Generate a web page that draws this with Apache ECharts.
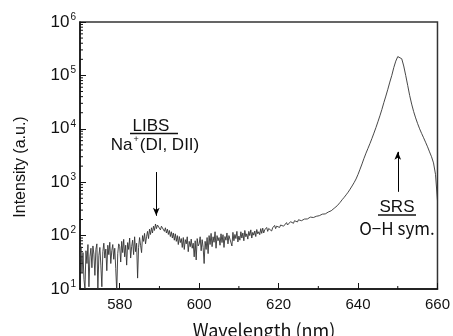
<!DOCTYPE html>
<html>
<head>
<meta charset="utf-8">
<script src="https://cdn.jsdelivr.net/npm/echarts@6/dist/echarts.min.js"></script>
<style>
  html, body { margin: 0; padding: 0; background: #fff; }
  #chart { width: 453px; height: 336px; }
</style>
</head>
<body>
<div id="chart"></div>
<script>
// noisy part: every 0.25 nm from 570 to 634.75 nm
const noisyStart = 570;
const noisyStep = 0.25;
const noisyIntensity = [
  35, 62, 20, 48,   15, 10, 52, 30,   68, 11, 40, 58,   25, 64, 45, 18,
  55, 70, 10, 42,   60, 28, 11, 50,   72, 38, 56, 22,   66, 44, 75, 30,
  52, 68, 36, 58,   24, 9, 46, 70,    62, 32, 78, 48,   85, 40, 66, 28,
  74, 55, 90, 38,   62, 82, 44, 95,   50, 72, 16, 60,   92, 66, 48, 100,
  78, 110, 70, 95,  120, 88, 132, 105, 140, 112, 150, 125, 165, 135, 158, 145,
  160, 128, 150, 138, 148, 120, 140, 112, 132, 105, 125, 96, 118, 90, 112, 82,
  108, 78, 100, 68, 96, 74, 88, 60,   92, 55, 84, 70,   95, 50, 78, 62,
  86, 58, 72, 40,   80, 35, 88, 64,   70, 95, 52, 84,   60, 30, 78, 55,
  92, 46, 100, 68,  110, 62, 95, 75,  118, 58, 100, 80, 92, 66, 108, 74,
  104, 60, 96, 82,  112, 70, 100, 86, 92, 64, 115, 80,  105, 88, 120, 76,
  98, 82, 118, 90,  112, 80, 125, 95, 108, 86, 120, 100, 128, 90, 115, 102,
  122, 96, 130, 108, 118, 104, 135, 110, 138, 112, 128, 118, 142, 120, 136, 126,
  148, 122, 140, 132, 155, 135, 150, 140, 160, 142, 158, 148, 168, 150, 162, 155,
  175, 158, 170, 162, 182, 168, 178, 170, 190, 176, 186, 180, 198, 186, 195, 190,
  206, 196, 204, 200, 214, 205, 212, 208, 222, 214, 220, 218, 232, 224, 230, 228,
  240, 236, 244, 240, 252, 248, 258, 255, 268, 265, 276, 274, 290, 292, 304, 310,
  325, 335, 348, 362
];

// SRS band: every 0.5 nm from 635 to 660 nm
const peakStart = 635;
const peakStep = 0.5;
const peakIntensity = [
  380, 420, 470, 520, 580, 650, 740, 850, 980, 1150,
  1400, 1750, 2200, 2800, 3500, 4300, 5300, 6600, 8300, 10500,
  13500, 17500, 23000, 31000, 41000, 55000, 75000, 100000, 140000, 185000,
  225000, 235000, 205000, 150000, 100000, 65000, 42000, 29000, 21000, 16000,
  12500, 10000, 8200, 6800, 5600, 4600, 3700, 3000, 2300, 1400,
  450
];

// minor tick values
const xMinorTicks = [590, 610, 630, 650];
const yMinorTicks = [];
[10, 100, 1000, 10000, 100000].forEach(d => {
  [2, 3, 4, 5, 6, 7, 8, 9].forEach(m => yMinorTicks.push(d * m));
});

// annotation arrows [x, yFrom, yTo]
const libsArrow = [589.2, 1550, 235];
const srsArrow = [650, 660, 3700];

const spectrum = noisyIntensity.map((v, i) => [noisyStart + i * noisyStep, v])
  .concat(peakIntensity.map((v, i) => [peakStart + i * peakStep, v]));
const minorData = xMinorTicks.map(x => [x, 10, 0]).concat(yMinorTicks.map(y => [570, y, 1]));

const chart = echarts.init(document.getElementById('chart'));

const option = {
  animation: false,
  grid: {
    left: 80, right: 13, top: 22, bottom: 47,
    show: true, borderColor: '#333', borderWidth: 1.5, backgroundColor: 'transparent'
  },
  xAxis: {
    type: 'value',
    min: 570,
    max: 660,
    axisLine: { show: true, lineStyle: { color: '#111', width: 1.5 } },
    axisTick: { show: true, inside: true, length: 6, lineStyle: { color: '#111' } },
    axisLabel: {
      showMinLabel: false, showMaxLabel: true,
      color: '#111', fontSize: 15, fontFamily: 'Liberation Sans', margin: 8
    },
    splitLine: { show: false }
  },
  yAxis: {
    type: 'log',
    logBase: 10,
    min: 10,
    max: 1000000,
    axisLine: { show: true, lineStyle: { color: '#111', width: 1.5 } },
    axisTick: { show: true, inside: true, length: 6, lineStyle: { color: '#111' } },
    axisLabel: {
      color: '#111', margin: 4,
      formatter: v => '{b|10}{s|' + Math.round(Math.log10(v)) + '}',
      rich: {
        b: { fontSize: 17, fontFamily: 'Liberation Sans', color: '#111' },
        s: { fontSize: 10, fontFamily: 'Liberation Sans', color: '#111', padding: [0, 0, 10, 1] }
      }
    },
    splitLine: { show: false }
  },
  series: [
    {
      type: 'line',
      data: spectrum,
      showSymbol: false,
      clip: true,
      lineStyle: { color: '#333', width: 0.9 },
      markLine: {
        silent: true,
        symbol: ['none', 'arrow'],
        symbolSize: [5, 8],
        label: { show: false },
        lineStyle: { color: '#000', width: 1, type: 'solid' },
        data: [
          [{ coord: [libsArrow[0], libsArrow[1]] }, { coord: [libsArrow[0], libsArrow[2]] }],
          [{ coord: [srsArrow[0], srsArrow[1]] }, { coord: [srsArrow[0], srsArrow[2]] }]
        ]
      }
    },
    {
      type: 'custom',
      silent: true,
      clip: false,
      data: minorData,
      renderItem: (params, api) => {
        const p = api.coord([api.value(0), api.value(1)]);
        const vertical = api.value(2) === 0;
        return {
          type: 'line',
          shape: vertical
            ? { x1: p[0], y1: p[1], x2: p[0], y2: p[1] - 3 }
            : { x1: p[0], y1: p[1], x2: p[0] + 3, y2: p[1] },
          style: { stroke: '#111', lineWidth: 1 }
        };
      }
    }
  ],
  graphic: [
    {
      type: 'text', x: 21, y: 167, rotation: Math.PI / 2,
      style: {
        text: 'Intensity (a.u.)', fontSize: 16, fontFamily: 'Liberation Sans',
        fill: '#111', align: 'center', verticalAlign: 'middle'
      }
    },
    {
      type: 'text', x: 264, y: 330,
      style: {
        text: 'Wavelength (nm)', fontSize: 18, fontFamily: 'Noto Sans CJK JP',
        fill: '#111', align: 'center', verticalAlign: 'middle'
      }
    },
    {
      type: 'text', x: 151, y: 126,
      style: {
        text: 'LIBS', fontSize: 17, fontFamily: 'Liberation Sans',
        fill: '#111', align: 'center', verticalAlign: 'middle'
      }
    },
    { type: 'line', shape: { x1: 130, y1: 133.5, x2: 178, y2: 133.5 }, style: { stroke: '#111', lineWidth: 1.5 } },
    {
      type: 'text', x: 155, y: 145,
      style: {
        text: '{n|Na}{s|+}{n|(DI, DII)}', align: 'center', verticalAlign: 'middle',
        rich: {
          n: { fontSize: 17, fontFamily: 'Liberation Sans', fill: '#111' },
          s: { fontSize: 9, fontFamily: 'Liberation Sans', fill: '#111', padding: [0, 1, 10, 1] }
        }
      }
    },
    {
      type: 'text', x: 397, y: 207,
      style: {
        text: 'SRS', fontSize: 17, fontFamily: 'Liberation Sans',
        fill: '#111', align: 'center', verticalAlign: 'middle'
      }
    },
    { type: 'line', shape: { x1: 378, y1: 215, x2: 416, y2: 215 }, style: { stroke: '#111', lineWidth: 1.5 } },
    {
      type: 'text', x: 397, y: 229,
      style: {
        text: 'O\u2212H sym.', fontSize: 17, fontFamily: 'Noto Sans CJK JP',
        fill: '#111', align: 'center', verticalAlign: 'middle'
      }
    }
  ]
};

chart.setOption(option);
</script>
</body>
</html>
